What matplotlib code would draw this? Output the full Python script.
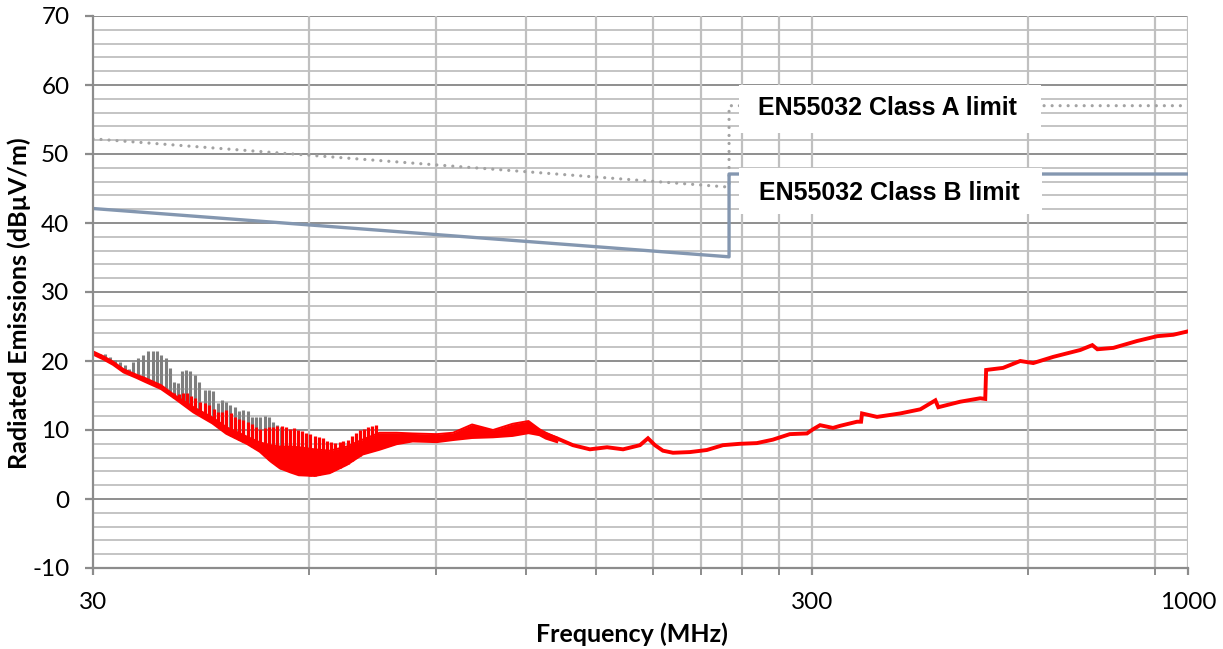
import matplotlib
matplotlib.use("Agg")
import matplotlib.pyplot as plt
from matplotlib.patches import Rectangle
from matplotlib.ticker import FixedLocator, NullFormatter, FixedFormatter

plt.rcParams["axes.unicode_minus"] = False

# ---------------- data ----------------
# Class A / Class B limit lines (frequency MHz, dBuV/m)
limA_f = [30, 230, 230, 1000]
limA_v = [52.2, 45.2, 57.0, 57.0]
limB_f = [30, 230, 230, 1000]
limB_v = [42.1, 35.1, 47.1, 47.1]

# Red measured trace, noisy low-frequency part: lower / upper (solid) envelope
red_band_f = [30.0, 31.0, 32.0, 33.1, 34.5, 35.5, 37.3, 39.0, 41.4, 44.0, 46.0,
              49.2, 51.2, 53.0, 54.6, 56.5, 58.0, 61.0, 64.0, 67.6, 71.1, 75.1,
              79.3, 83.5, 90.2, 95.0, 101.0, 108.0, 115.0, 121.0, 125.4, 128.0, 132.5]
red_band_lo = [21.0, 20.3, 19.5, 18.4, 17.6, 17.0, 16.0, 14.6, 12.6, 11.0, 9.5,
               8.0, 6.9, 5.5, 4.5, 3.9, 3.5, 3.4, 3.8, 5.0, 6.5, 7.2,
               8.0, 8.4, 8.3, 8.6, 8.9, 9.0, 9.2, 9.6, 9.3, 8.8, 8.3]
red_band_hi = [21.4, 20.7, 19.9, 18.8, 18.0, 17.5, 16.5, 15.0, 13.3, 11.8, 10.4,
               9.0, 8.2, 7.8, 7.6, 7.6, 7.5, 7.2, 7.0, 7.6, 8.6, 9.6,
               9.6, 9.5, 9.4, 9.6, 10.8, 10.0, 10.9, 11.3, 10.1, 9.6, 8.9]

# Red trace spikes (frequency, peak level, base level)
red_spk_f = [38.9, 39.5, 40.0, 40.6, 41.1, 41.6, 42.3, 42.9, 43.5, 44.2,
             44.8, 45.4, 46.0, 46.7, 47.3, 47.9, 48.5, 49.3, 49.9, 50.6,
             51.2, 52.0, 52.7, 53.4, 54.1, 54.9, 55.6, 56.3, 57.1, 57.9,
             58.6, 59.3, 60.2, 61.0, 61.8, 62.7, 63.5, 64.3, 65.2, 66.1,
             66.9, 67.8, 68.8, 69.6, 70.5, 71.5, 72.4, 73.4, 74.3]
red_spk_v = [15.3, 15.2, 15.4, 15.3, 15.0, 14.6, 14.0, 13.9, 13.6, 13.0,
             12.6, 12.6, 12.9, 12.4, 11.9, 11.6, 11.4, 11.2, 10.9, 10.5,
             10.2, 10.3, 10.5, 10.5, 10.6, 10.6, 10.4, 10.2, 10.3, 10.0,
             9.8, 9.6, 9.4, 9.2, 9.0, 8.8, 8.4, 8.2, 8.1, 8.2,
             8.4, 8.6, 9.2, 9.5, 10.0, 10.2, 10.4, 10.6, 10.7]
red_spk_base = [14.7, 14.3, 13.9, 13.5, 13.1, 12.7, 12.2, 11.8, 11.4, 10.9,
                10.4, 10.0, 9.5, 9.2, 8.8, 8.5, 8.3, 8.0, 7.7, 7.3,
                6.9, 6.3, 5.8, 5.3, 4.9, 4.5, 4.2, 4.0, 3.8, 3.6,
                3.5, 3.5, 3.4, 3.4, 3.5, 3.6, 3.7, 3.9, 4.2, 4.5,
                4.8, 5.1, 5.5, 5.9, 6.2, 6.6, 6.8, 7.0, 7.2]

# Red measured trace, upper frequency part (single line)
red_f = [125.4, 132.5, 139.5, 147.3, 155.6, 163.8, 172.9, 177.4, 181.4, 186.1,
         192.2, 202.9, 214.2, 225.5, 238.1, 251.4, 264.6, 279.4, 295.2, 300.9,
         307.8, 320.8, 328.1, 346.5, 351.0, 352.1, 369.4, 397.9, 424.4, 445.3,
         449.5, 482.2, 514.1, 522.4, 523.9, 553.0, 584.4, 609.2, 649.6, 708.4,
         736.1, 748.1, 787.4, 849.6, 906.3, 953.9, 1000.0]
red_v = [9.7, 8.8, 7.8, 7.2, 7.5, 7.2, 7.8, 8.8, 7.8, 7.0,
         6.7, 6.8, 7.1, 7.8, 8.0, 8.1, 8.6, 9.4, 9.5, 10.1,
         10.7, 10.3, 10.6, 11.2, 11.2, 12.4, 11.9, 12.4, 13.0, 14.3,
         13.3, 14.1, 14.6, 14.5, 18.7, 19.0, 20.0, 19.7, 20.6, 21.6,
         22.3, 21.7, 21.9, 22.9, 23.6, 23.8, 24.3]

# Gray trace spikes (frequency, peak level, base level)
gray_f = [30.71, 31.21, 31.65, 32.16, 32.69, 33.21, 33.66, 34.10, 34.64, 35.21,
          35.77, 36.35, 36.82, 37.33, 37.86, 38.42, 38.88, 39.41, 39.93, 40.44,
          40.96, 41.54, 42.10, 42.90, 43.50, 44.05, 44.77, 45.38, 45.97, 46.56,
          47.22, 47.83, 48.50, 49.30, 49.97, 50.61, 51.26, 51.99, 52.66, 53.40,
          54.10, 54.80]
gray_peak = [21.0, 21.0, 20.6, 20.1, 19.9, 19.4, 18.9, 19.9, 20.4, 20.8,
             21.4, 21.4, 21.4, 20.9, 20.5, 19.0, 17.0, 16.8, 18.5, 18.7,
             18.6, 18.0, 17.0, 15.8, 15.8, 15.6, 13.9, 14.3, 14.1, 13.6,
             13.4, 12.7, 12.9, 12.7, 11.9, 11.9, 11.9, 12.0, 11.9, 11.2,
             10.7, 10.5]
gray_base = [20.6, 20.2, 19.8, 19.4, 18.9, 18.4, 18.1, 17.8, 17.5, 17.2,
             16.9, 16.6, 16.3, 16.0, 15.6, 15.1, 14.8, 14.4, 14.0, 13.6,
             13.2, 12.7, 12.3, 11.8, 11.3, 11.0, 10.5, 10.0, 9.6, 9.3,
             9.0, 8.7, 8.4, 8.0, 7.6, 7.2, 6.9, 6.3, 5.7, 5.2,
             4.8, 4.4]

x_major = [30, 300, 1000]
x_major_labels = ["30", "300", "1000"]
x_minor = [60, 90, 120, 150, 180, 210, 240, 270, 600, 900]
y_major = [-10, 0, 10, 20, 30, 40, 50, 60, 70]
y_minor = list(range(-10, 71, 2))

labelA = "EN55032 Class A limit"
labelB = "EN55032 Class B limit"
xlabel = "Frequency (MHz)"
ylabel = "Radiated Emissions (dB\u00b5V/m)"

# ---------------- figure ----------------
W, H = 1223, 649
fig = plt.figure(figsize=(W / 100, H / 100), dpi=100)
ax = fig.add_axes([93 / W, 1 - 568 / H, 1095 / W, 552 / H])
ax.set_xscale("log")
ax.set_xlim(30, 1000)
ax.set_ylim(-10, 70)

# grid lines
for v in y_minor:
    if v in y_major:
        continue
    ax.axhline(v, color="#c4c4c4", lw=1.4, zorder=0)
for v in y_major:
    ax.axhline(v, color="#8e8e8e", lw=1.4, zorder=0.5)
for f in x_minor + [300, 1000]:
    ax.axvline(f, color="#c0c0c0", lw=1.6, zorder=0.6)

# gray spikes
ax.vlines(gray_f, gray_base, gray_peak, color="#7f7f7f", lw=2.2, zorder=2)

# red trace
ax.fill_between(red_band_f, red_band_lo, red_band_hi, color="#ff0000", lw=0, zorder=3)
ax.plot(red_band_f, red_band_lo, color="#ff0000", lw=2.0, zorder=3)
ax.plot(red_band_f, red_band_hi, color="#ff0000", lw=1.4, zorder=3)
ax.vlines(red_spk_f, red_spk_base, red_spk_v, color="#ff0000", lw=2.3, zorder=3)
ax.plot(red_f, red_v, color="#ff0000", lw=2.8, zorder=3, solid_joinstyle="miter")

# limits
ax.plot(limA_f, limA_v, color="#a3a3a3", lw=2.3, linestyle=(0, (0.01, 2.5)),
        dash_capstyle="round", zorder=4)
ax.plot(limB_f, limB_v, color="#8497b0", lw=2.4, zorder=4)

# label boxes (white boxes with bold text)
for (x0, y0, x1, y1) in [(0.590, 0.788, 0.866, 0.875), (0.590, 0.641, 0.867, 0.725)]:
    ax.add_patch(Rectangle((x0, y0), x1 - x0, y1 - y0, transform=ax.transAxes,
                           fc="white", ec="none", zorder=5))
for txt, xc, yb in [(labelA, 0.7256, 0.8207), (labelB, 0.7270, 0.6670)]:
    ax.text(xc, yb, txt, transform=ax.transAxes, ha="center", va="baseline",
            fontsize=18, fontweight="bold", family=["Liberation Sans", "DejaVu Sans"],
            color="#000000", zorder=6)

# axes styling
for s in ["top", "right"]:
    ax.spines[s].set_visible(False)
for s in ["left", "bottom"]:
    ax.spines[s].set_color("#8c8c8c")
    ax.spines[s].set_linewidth(1.6)
    ax.spines[s].set_zorder(5)

ax.xaxis.set_major_locator(FixedLocator(x_major))
ax.xaxis.set_major_formatter(FixedFormatter(x_major_labels))
ax.xaxis.set_minor_locator(FixedLocator(x_minor))
ax.xaxis.set_minor_formatter(NullFormatter())
ax.yaxis.set_major_locator(FixedLocator(y_major))
ax.yaxis.set_minor_locator(FixedLocator([]))

tick_font = ["Lato", "DejaVu Sans"]
ax.tick_params(axis="x", which="major", length=5, width=1.6, color="#8c8c8c",
               pad=12, labelsize=17.5)
ax.tick_params(axis="x", which="minor", length=5, width=1.4, color="#8c8c8c")
ax.tick_params(axis="y", which="major", length=6, width=1.6, color="#8c8c8c",
               pad=11, labelsize=17.5)
for lab in ax.get_xticklabels() + ax.get_yticklabels():
    lab.set_family(tick_font)
    lab.set_color("#000000")

ax.set_xlabel(xlabel, fontsize=18, fontweight="bold", family=tick_font)
ax.set_ylabel(ylabel, fontsize=18, fontweight="bold", family=tick_font)
ax.xaxis.set_label_coords(0.492, -0.098)
ax.yaxis.set_label_coords(-0.057, 0.48)

fig.savefig("out.png", dpi=100, facecolor="white")
